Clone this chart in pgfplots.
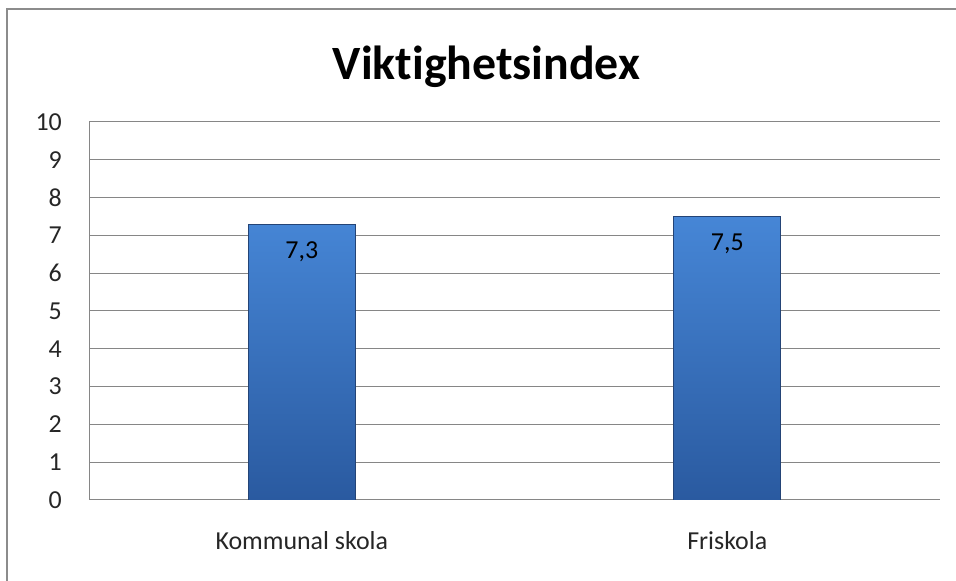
\documentclass[border=0pt]{standalone}
\usepackage{fontspec}
\setmainfont{Carlito}[Ligatures=NoCommon]
\usepackage{pgfplots}
\pgfplotsset{compat=1.18}

\definecolor{gridgray}{RGB}{134,134,134}
\definecolor{frame}{RGB}{140,140,140}
\definecolor{bartop}{RGB}{70,134,214}
\definecolor{barbot}{RGB}{42,90,160}
\definecolor{baredge}{RGB}{36,68,118}

\begin{document}
\begin{tikzpicture}[x=1bp,y=1bp]
\useasboundingbox (0,0) rectangle (956,581);
% chart frame (left and top edges visible)
\draw[frame, line width=2.5bp] (7,-5) -- (7,572) -- (960,572);

\node[font=\fontsize{48}{56}\selectfont\bfseries, anchor=base] at (486.5,501) {Viktighetsindex};

\begin{axis}[
    at={(89bp,81bp)}, anchor=south west,
    scale only axis,
    width=851bp, height=378bp,
    xmin=0, xmax=2,
    ymin=0, ymax=10,
    ytick={0,1,...,10},
    xtick={0.5,1.5},
    xticklabels={Kommunal skola, Friskola},
    major tick length=0pt,
    axis x line*=bottom,
    axis y line*=left,
    axis line style={gridgray, line width=1bp},
    ymajorgrids=true,
    grid style={gridgray, line width=1bp},
    tick label style={font=\fontsize{26}{30}\selectfont, text=black!85},
    /pgf/number format/assume math mode=true,
    yticklabel style={inner sep=0pt, xshift=-27bp},
    xticklabel style={inner sep=0pt, anchor=north, yshift=-31bp},
    bar width=107bp,
]
\addplot[ybar, top color=bartop, bottom color=barbot, draw=baredge, line width=0.8bp,
    nodes near coords={\pgfmathprintnumber[fixed,fixed zerofill,precision=1,use comma]{\pgfplotspointmeta}},
    every node near coord/.append style={anchor=north, yshift=-14bp, font=\fontsize{26}{30}\selectfont, text=black},
    ]
    coordinates {(0.5,7.3) (1.5,7.5)};
\end{axis}
\end{tikzpicture}
\end{document}
